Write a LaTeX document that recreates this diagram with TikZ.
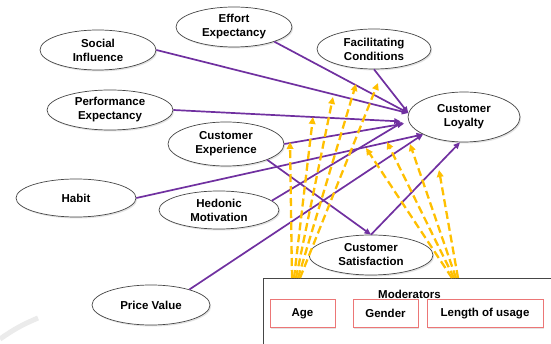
\documentclass[tikz,border=0pt]{standalone}
\usepackage{fontspec}
\setmainfont{Liberation Sans}
\usetikzlibrary{arrows.meta,shapes.geometric,shadows}
\definecolor{purp}{RGB}{112,48,160}
\definecolor{gold}{RGB}{255,192,0}
\definecolor{boxred}{RGB}{236,118,118}
\definecolor{edgegray}{RGB}{70,70,70}
\begin{document}
\begin{tikzpicture}[x=1pt,y=-1pt,
  lbl/.style={font=\bfseries\fontsize{11.5}{14}\selectfont, align=center},
  ell/.style={lbl, ellipse, draw=edgegray, line width=0.7pt, fill=white, inner sep=0pt,
    drop shadow={shadow xshift=1.2pt, shadow yshift=-1.5pt, opacity=0.22}},
  modbox/.style={lbl, rectangle, draw=boxred, line width=1pt, fill=white, inner sep=0pt,
    minimum height=27pt, drop shadow={shadow xshift=1.2pt, shadow yshift=-1.5pt, opacity=0.22}},
  pa/.style={draw=purp, line width=1.7pt, -{Triangle[length=6.5pt,width=5.5pt]}},
  ya/.style={draw=gold, line width=2.3pt, dash pattern=on 8pt off 4pt, -{Triangle[length=7pt,width=6.5pt]}}
]
\useasboundingbox[fill=white] (0,0) rectangle (551,344);
\draw[black!8, line width=5pt] (0,339) to[bend left=6] (38,318);

% ellipses
\node[ell, minimum width=116pt, minimum height=40pt] (si) at (98,50) {Social\\Influence};
\node[ell, minimum width=116pt, minimum height=40pt] (ee) at (234,27) {Effort\\Expectancy};
\node[ell, minimum width=114pt, minimum height=40pt] (fc) at (374,49) {Facilitating\\Conditions};
\node[ell, minimum width=126pt, minimum height=40pt] (pe) at (110,110) {Performance\\Expectancy};
\node[ell, minimum width=116pt, minimum height=44pt] (ce) at (226,144) {Customer\\Experience};
\node[ell, minimum width=112pt, minimum height=50pt] (cl) at (464,117) {Customer\\Loyalty};
\node[ell, minimum width=120pt, minimum height=38pt] (hb) at (76,198) {Habit};
\node[ell, minimum width=120pt, minimum height=38pt] (hm) at (219,210) {Hedonic\\Motivation};
\node[ell, minimum width=118pt, minimum height=40pt] (pv) at (151,305) {Price Value};
\node[ell, minimum width=124pt, minimum height=40pt] (cs) at (371,255) {Customer\\Satisfaction};

% moderators panel
\draw[edgegray, line width=0.8pt] (263,346) -- (263,278) -- (553,278);
\node[lbl] (modt) at (409.5,294) {Moderators};
\node[modbox, minimum width=65pt] (age) at (302.5,313.5) {Age};
\node[modbox, minimum width=65pt] (gen) at (385.5,313.5) {Gender};
\node[modbox, minimum width=116pt] (len) at (485,313.5) {Length of usage};

% purple relationships
\draw[pa] (si.east) -- (cl.176);
\draw[pa] (ee.340) -- (cl.176);
\draw[pa] (fc.south) -- (cl.176);
\draw[pa, shorten >=8pt] (pe.east) -- (cl.185);
\draw[pa, shorten >=5pt] (ce.east) -- (cl.186);
\draw[pa] (hb.east) -- (cl.203);
\draw[pa, shorten >=6pt] (hm.10) -- (cl.182);
\draw[pa] (pv.22) -- (cl.203);
\draw[pa] (ce.339) -- (cs.north);
\draw[pa] (cs.north) -- (cl.261);

% moderator (dashed) arrows
\coordinate (a1) at (292,278);
\coordinate (a2) at (294,278);
\coordinate (a3) at (296,278);
\coordinate (a4) at (298,278);
\coordinate (a5) at (300,278);
\coordinate (l1) at (452,278);
\coordinate (l2) at (454,278);
\coordinate (l3) at (456,278);
\coordinate (l4) at (458,278);
\coordinate (t1) at (290,142);
\coordinate (t2) at (313,117);
\coordinate (t3) at (333,97);
\coordinate (t4) at (356,84);
\coordinate (t5) at (378,83);
\coordinate (u1) at (366,148);
\coordinate (u2) at (387,142);
\coordinate (u3) at (410,144);
\coordinate (u4) at (439,170);
\draw[ya] (a1) -- (t1);
\draw[ya] (a2) -- (t2);
\draw[ya] (a3) -- (t3);
\draw[ya] (a4) -- (t4);
\draw[ya] (a5) -- (t5);
\draw[ya] (l1) -- (u1);
\draw[ya] (l2) -- (u2);
\draw[ya] (l3) -- (u3);
\draw[ya] (l4) -- (u4);
\end{tikzpicture}
\end{document}
